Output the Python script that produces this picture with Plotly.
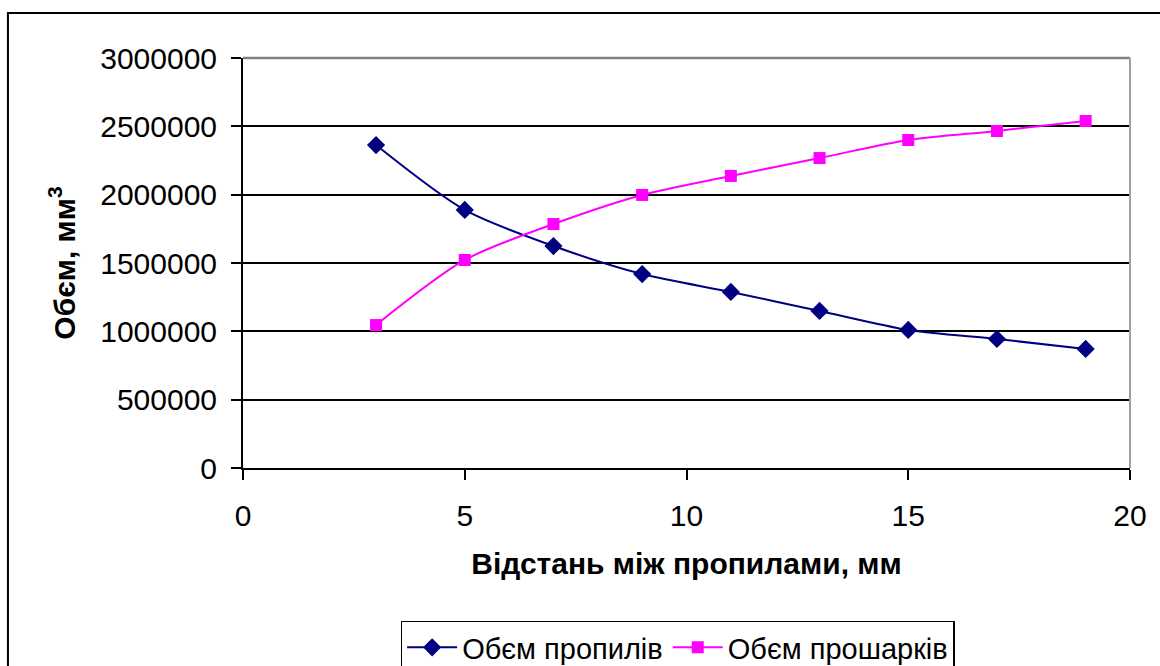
import plotly.graph_objects as go

# Distance between saw cuts, mm
spacing = [3, 5, 7, 9, 11, 13, 15, 17, 19]
# Volume of the cuts, mm^3
cut_volume = [2363000, 1888000, 1624000, 1419000, 1288000, 1149000, 1010000, 944000, 871000]
# Volume of the remaining layers, mm^3
layer_volume = [1046000, 1522000, 1785000, 1998000, 2137000, 2268000, 2400000, 2466000, 2539000]

y_ticks = [0, 500000, 1000000, 1500000, 2000000, 2500000, 3000000]
x_ticks = [0, 5, 10, 15, 20]

FONT = "Liberation Sans, Arial, sans-serif"
FS = 30

fig = go.Figure()
fig.add_trace(go.Scatter(
    x=spacing, y=cut_volume, name="Обєм пропилів",
    mode="lines+markers",
    line=dict(color="#000080", width=2, shape="spline", smoothing=0.8),
    marker=dict(symbol="diamond", size=14, color="#000080"),
))
fig.add_trace(go.Scatter(
    x=spacing, y=layer_volume, name="Обєм прошарків",
    mode="lines+markers",
    line=dict(color="#FF00FF", width=2, shape="spline", smoothing=0.8),
    marker=dict(symbol="square", size=12, color="#FF00FF"),
))

fig.update_layout(
    width=1160, height=666,
    margin=dict(l=243, r=30, t=58, b=198, autoexpand=False),
    paper_bgcolor="white", plot_bgcolor="white",
    font=dict(family=FONT, size=FS, color="black"),
    showlegend=True,
    legend=dict(
        orientation="h", x=0.49, xanchor="center", y=-0.372, yanchor="top",
        bordercolor="black", borderwidth=1.5, bgcolor="white",
        font=dict(size=29), itemwidth=50, tracegroupgap=0,
    ),
    xaxis=dict(
        range=[0, 20], tickvals=x_ticks, showgrid=False, zeroline=False,
        showline=True, linecolor="black", linewidth=2,
        ticks="outside", ticklen=10, tickwidth=2, tickcolor="black",
        ticklabelstandoff=10, automargin=False,
        title=dict(text="<b>Відстань між пропилами, мм</b>", standoff=22,
                   font=dict(size=FS)),
    ),
    yaxis=dict(
        range=[0, 3000000], tickvals=y_ticks, showgrid=True,
        gridcolor="black", gridwidth=1.5, zeroline=False,
        showline=True, linecolor="black", linewidth=2,
        ticks="outside", ticklen=10, tickwidth=2, tickcolor="black",
        ticklabelstandoff=8, tickformat="d", automargin=False,
        title=dict(text="<b>Обєм, мм<sup>3</sup></b>", standoff=16,
                   font=dict(size=FS)),
    ),
    shapes=[
        # grey plot-area border on top and right
        dict(type="line", xref="paper", yref="paper", x0=0, x1=1, y0=1, y1=1,
             line=dict(color="#808080", width=2.5)),
        dict(type="line", xref="paper", yref="paper", x0=1, x1=1, y0=0, y1=1,
             line=dict(color="#a0a0a0", width=2)),
        # outer chart frame
        dict(type="rect", xref="paper", yref="paper",
             x0=-0.265, x1=1.1, y0=-0.6, y1=1.11,
             line=dict(color="black", width=2), layer="below"),
    ],
)

fig.write_html("out.html")
